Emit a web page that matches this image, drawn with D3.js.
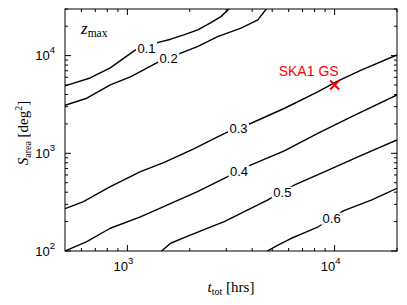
<!DOCTYPE html>
<html lang="en">
  <head>
    <meta charset="UTF-8" />
    <title>z_max contours</title>
    <script src="https://d3js.org/d3.v7.min.js"></script>
    <style>
      body { margin: 0; background: #fff; }
      .tick-label { font-family: 'Liberation Sans', Arial, sans-serif; font-size: 13px; fill: #000; }
      .clabel { font-family: 'Liberation Sans', Arial, sans-serif; font-size: 13px; fill: #000; }
      .math { font-family: 'Liberation Serif', 'DejaVu Serif', serif; fill: #000; }
    </style>
  </head>
  <body>
    <div id="chart"></div>
    <script>
      // contour levels (z_max) and their paths: t_tot [hrs], S_area [deg^2]
      const levels = ['0.1', '0.2', '0.3', '0.4', '0.5', '0.6'];

      const t01 = [500, 661, 827, 1094, 1367, 1617, 1870, 2187, 2529, 2827, 3093];
      const s01 = [4900, 5900, 7480, 11430, 13400, 14720, 16290, 18320, 21780, 25060, 30000];

      const t02 = [500, 637, 827, 1034, 1414, 1808, 2179, 2724, 3536, 4263, 4677];
      const s02 = [3105, 3664, 5012, 6050, 8620, 10580, 12360, 15650, 19090, 23210, 30000];

      const t03 = [500, 614, 827, 1156, 1496, 2091, 2724, 3058, 3954, 5737, 8333, 10220, 13520, 20000];
      const s03 = [271, 320, 455, 649, 802, 1108, 1471, 1655, 2031, 2892, 4279, 5416, 7137, 10160];

      const t04 = [500, 637, 827, 1156, 1496, 2179, 3048, 3954, 5718, 8333, 12090, 20000];
      const s04 = [100, 124.5, 171, 224, 284, 405, 577, 760, 1057, 1605, 2373, 3958];

      const t05 = [1462, 1617, 1877, 2529, 2934, 4764, 6418, 8973, 13030, 20000];
      const s05 = [100, 120, 137, 177, 200, 333, 474, 649, 924, 1370];

      const t06 = [4728, 5330, 6184, 7176, 8333, 11020, 12090, 15120, 20000];
      const s06 = [100, 115, 135, 154, 177, 257, 278, 333, 438];

      // inline label positions for each level
      const labelT = [1237, 1581, 3439, 3458, 5594, 9670];
      const labelS = [11990, 9360, 1818, 652, 395, 214];

      // SKA1 galaxy survey point
      const skaName = 'SKA1 GS';
      const skaT = 10000;
      const skaS = 5000;

      // ticks
      const xMajor = [1000, 10000];
      const xMajorExp = ['3', '4'];
      const xMinor = [600, 700, 800, 900, 2000, 3000, 4000, 5000, 6000, 7000, 8000, 9000, 20000];
      const yMajor = [100, 1000, 10000];
      const yMajorExp = ['2', '3', '4'];
      const yMinor = [200, 300, 400, 500, 600, 700, 800, 900, 2000, 3000, 4000, 5000, 6000, 7000, 8000, 9000, 20000, 30000];

      const W = 407, H = 305;
      const margin = { top: 9, right: 10, bottom: 54, left: 65 };
      const width = W - margin.left - margin.right;
      const height = H - margin.top - margin.bottom;

      const svg = d3.select('#chart').append('svg').attr('width', W).attr('height', H);
      const g = svg.append('g').attr('transform', 'translate(' + margin.left + ',' + margin.top + ')');

      const x = d3.scaleLog().domain([500, 20000]).range([0, width]);
      const y = d3.scaleLog().domain([100, 30000]).range([height, 0]);

      g.append('clipPath').attr('id', 'clip')
        .append('rect').attr('width', width).attr('height', height);

      const series = [[t01, s01], [t02, s02], [t03, s03], [t04, s04], [t05, s05], [t06, s06]];
      const line = d3.line().x((d) => x(d[0])).y((d) => y(d[1]));

      const lines = g.append('g').attr('clip-path', 'url(#clip)');
      series.forEach(([ts, ss]) => {
        lines.append('path')
          .datum(ts.map((t, i) => [t, ss[i]]))
          .attr('d', line)
          .attr('fill', 'none')
          .attr('stroke', '#000')
          .attr('stroke-width', 1.4)
          .attr('stroke-linejoin', 'round');
      });

      // contour labels, each with a white patch that breaks the line
      levels.forEach((lv, i) => {
        const cx = x(labelT[i]), cy = y(labelS[i]);
        const bg = g.append('rect').attr('fill', '#fff');
        const txt = g.append('text')
          .attr('class', 'clabel')
          .attr('x', cx).attr('y', cy + 4.6)
          .attr('text-anchor', 'middle')
          .text(lv);
        const bb = txt.node().getBBox();
        bg.attr('x', bb.x - 1.5).attr('y', cy - 6).attr('width', bb.width + 3).attr('height', 12);
      });

      // SKA1 GS marker
      const sx = x(skaT), sy = y(skaS), r = 4.5;
      g.append('path')
        .attr('d', `M${sx - r},${sy - r}L${sx + r},${sy + r}M${sx - r},${sy + r}L${sx + r},${sy - r}`)
        .attr('stroke', '#ff0000').attr('stroke-width', 2).attr('fill', 'none');
      g.append('text')
        .attr('x', sx + 4).attr('y', sy - 9)
        .attr('text-anchor', 'end')
        .attr('font-family', "'Liberation Sans', Arial, sans-serif")
        .attr('font-size', 14).attr('fill', '#ff0000')
        .text(skaName);

      // frame
      g.append('rect').attr('width', width).attr('height', height)
        .attr('fill', 'none').attr('stroke', '#000').attr('stroke-width', 1);

      // ticks on all four sides, pointing inward
      const ticks = g.append('g').attr('stroke', '#000').attr('stroke-width', 1);
      function xTick(v, len) {
        ticks.append('line').attr('x1', x(v)).attr('x2', x(v)).attr('y1', height).attr('y2', height - len);
        ticks.append('line').attr('x1', x(v)).attr('x2', x(v)).attr('y1', 0).attr('y2', len);
      }
      function yTick(v, len) {
        ticks.append('line').attr('y1', y(v)).attr('y2', y(v)).attr('x1', 0).attr('x2', len);
        ticks.append('line').attr('y1', y(v)).attr('y2', y(v)).attr('x1', width).attr('x2', width - len);
      }
      xMajor.forEach((v) => xTick(v, 6));
      xMinor.forEach((v) => xTick(v, 3));
      yMajor.forEach((v) => yTick(v, 6));
      yMinor.forEach((v) => yTick(v, 3));

      // tick labels
      xMajor.forEach((v, i) => {
        const t = g.append('text').attr('class', 'tick-label')
          .attr('x', x(v) - 4).attr('y', height + 19.5)
          .attr('text-anchor', 'middle');
        t.append('tspan').text('10');
        t.append('tspan').attr('dy', -7).attr('font-size', 9.5).text(xMajorExp[i]);
      });
      yMajor.forEach((v, i) => {
        const t = g.append('text').attr('class', 'tick-label')
          .attr('x', -10).attr('y', y(v) + 4.7)
          .attr('text-anchor', 'end');
        t.append('tspan').text('10');
        t.append('tspan').attr('dy', -7).attr('font-size', 9.5).text(yMajorExp[i]);
      });

      // axis titles
      const xt = svg.append('text').attr('class', 'math')
        .attr('x', margin.left + width / 2).attr('y', 292)
        .attr('text-anchor', 'middle').attr('font-size', 15);
      xt.append('tspan').attr('font-style', 'italic').text('t');
      xt.append('tspan').attr('font-size', 10).attr('dy', 3).text('tot');
      xt.append('tspan').attr('dy', -3).text(' [hrs]');

      const yt = svg.append('text').attr('class', 'math')
        .attr('transform', 'translate(28,' + (margin.top + 124) + ') rotate(-90)')
        .attr('text-anchor', 'middle').attr('font-size', 15);
      yt.append('tspan').attr('font-style', 'italic').text('S');
      yt.append('tspan').attr('font-size', 10).attr('dy', 3).text('area');
      yt.append('tspan').attr('dy', -3).text(' [deg');
      yt.append('tspan').attr('font-size', 10).attr('dy', -6).text('2');
      yt.append('tspan').attr('dy', 6).text(']');

      // z_max annotation
      const zt = svg.append('text').attr('class', 'math')
        .attr('x', 81).attr('y', 34).attr('font-size', 17);
      zt.append('tspan').attr('font-style', 'italic').text('z');
      zt.append('tspan').attr('font-size', 11.5).attr('dy', 3).text('max');
    </script>
  </body>
</html>
